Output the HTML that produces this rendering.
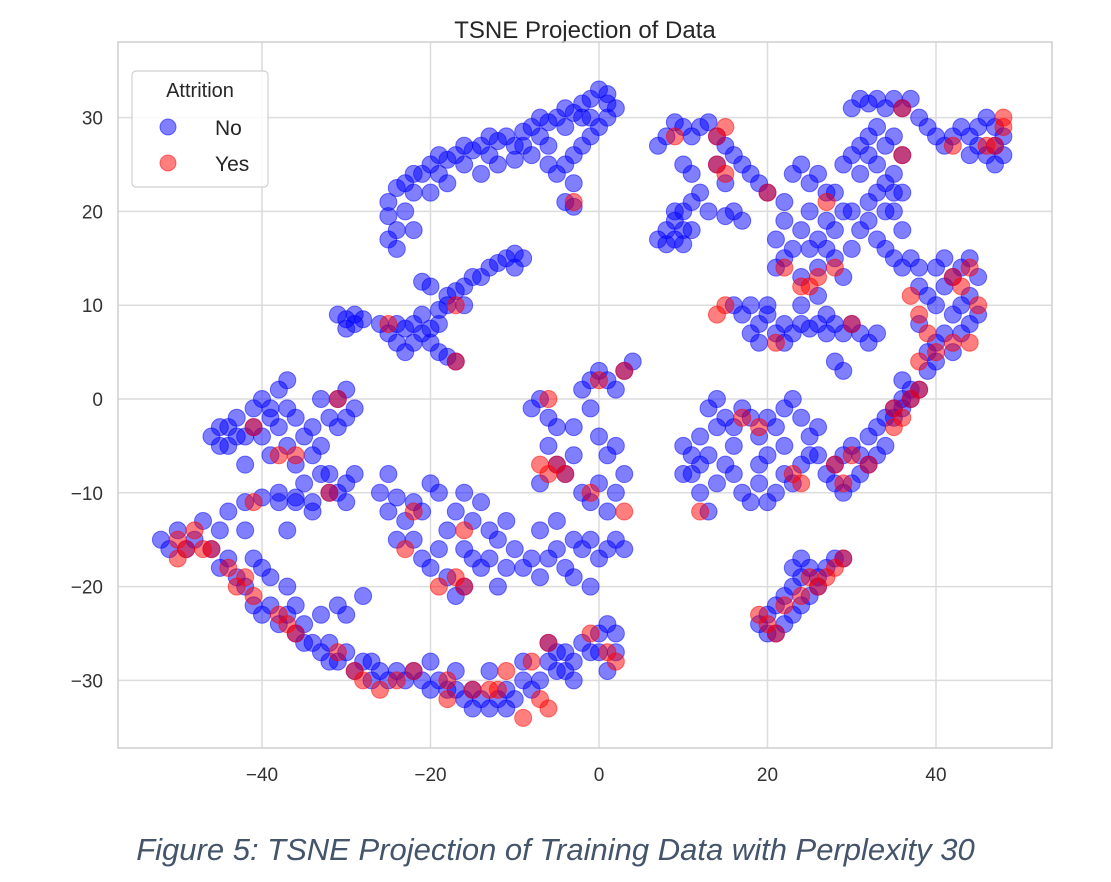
<!DOCTYPE html>
<html><head><meta charset="utf-8"><style>
body{margin:0;background:#fff;width:1111px;height:882px;overflow:hidden;font-family:"Liberation Sans",sans-serif}
svg{position:absolute;left:0;top:0}
.cap{position:absolute;left:0;width:1111px;top:832px;text-align:center;font-style:italic;font-size:31px;color:#44546a;font-family:"Liberation Sans",sans-serif}
</style></head><body>
<svg id="chart" width="1111" height="882"></svg>
<div class="cap">Figure 5: TSNE Projection of Training Data with Perplexity 30</div>
<script>
const xTicks=[-40,-20,0,20,40];
const yTicks=[-30,-20,-10,0,10,20,30];
const seriesNames=["No","Yes"];
const noPoints=[[-25,17],[-24,18],[-25,19.5],[-25,21],[-24,22.5],[-23,23],[-22,22],[-21,24],[-20,25],[-19,24],[-18,25.5],[-17,26],[-16,25],[-15,26.5],[-14,27],[-13,26],[-12,27.5],[-11,28],[-10,27],[-9,28.5],[-8,29],[-7,28],[-6,29.5],[-5,30],[-4,31],[-3,30.5],[-2,31.5],[-1,32],[0,33],[1,32.5],[2,31],[1,30],[0,29],[-1,28],[-2,27],[-3,26],[-4,25],[-3,23],[-4,21],[-3,20.5],[-10,25.5],[-8,26],[-6,27],[-23,20],[-22,18],[-24,16],[-20,22],[-18,23],[-14,24],[-12,25],[-6,25],[-5,24],[-22,24],[-19,26],[-16,27],[-13,28],[-9,27],[-7,30],[-4,29],[-2,30],[1,31.5],[-1,30],
[-21,12.5],[-20,12],[-18,11],[-17,11.5],[-16,12],[-15,13],[-14,13],[-13,14],[-12,14.5],[-11,15],[-10,15.5],[-9,15],[-10,14],
[-31,9],[-30,8.5],[-29,8],[-30,7.5],[-28,8.5],[-26,8],[-25,7],[-24,6],[-23,5],[-22,8],[-23,7.5],[-21,7],[-20,7.5],[-19,8],[-20,6],[-19,5],[-18,4.5],[-17,4],[-21,9],[-19,9.5],[-18,10],[-16,10],[-29,9],[-24,8],[-22,6],
[-46,-4],[-45,-3],[-44,-5],[-43,-2],[-42,-4],[-41,-1],[-40,0],[-39,-1],[-38,1],[-37,2],[-38,-3],[-37,-5],[-36,-2],[-35,-4],[-36,-7],[-35,-9],[-34,-6],[-33,0],[-32,-2],[-33,-5],[-32,-8],[-31,-10],[-30,-9],[-31,0],[-30,1],[-29,-1],[-31,-3],[-29,-8],[-39,-6],[-40,-4],[-42,-7],[-44,-3],[-45,-5],[-38,-10],[-36,-11],[-34,-12],[-37,-14],[-43,-4],[-41,-3],[-39,-2],[-37,-1],[-34,-3],[-33,-8],[-30,-2],
[-42,-11],[-40,-10.5],[-38,-11],[-36,-10.5],[-34,-11],[-32,-10],[-30,-11],
[-52,-15],[-51,-16],[-50,-14],[-49,-16],[-48,-15],[-47,-13],[-46,-16],[-45,-18],[-44,-17],[-43,-19],[-42,-20],[-41,-22],[-40,-23],[-39,-22],[-38,-24],[-37,-23],[-36,-25],[-35,-24],[-34,-26],[-33,-27],[-32,-26],[-31,-28],[-30,-27],[-29,-29],[-28,-28],[-27,-30],[-26,-29],[-25,-30],[-24,-29],[-23,-30],[-22,-29],[-21,-30],[-20,-31],[-19,-30],[-18,-31],[-17,-31],[-16,-32],[-15,-31],[-14,-32],[-13,-33],[-12,-32],[-11,-31],[-10,-32],[-9,-30],[-8,-31],[-7,-30],[-6,-28],[-5,-29],[-4,-27],[-3,-28],[-2,-26],[-1,-27],[0,-25],[1,-24],[2,-25],[2,-27],[1,-29],[-3,-30],[-6,-26],[-37,-20],[-36,-22],[-33,-23],[-31,-22],[-30,-23],[-28,-21],[-44,-12],[-45,-14],[-42,-14],[-41,-17],[-40,-18],[-39,-19],[-20,-28],[-17,-29],[-13,-29],[-9,-28],[-35,-26],[-32,-28],[-27,-28],[-15,-33],[-11,-33],[-5,-27],[-4,-29],[0,-27],
[-26,-10],[-25,-12],[-24,-10.5],[-23,-13],[-22,-15],[-22,-11],[-21,-17],[-20,-18],[-19,-16],[-18,-14],[-20,-9],[-19,-10],[-17,-12],[-16,-10],[-15,-13],[-14,-11],[-13,-14],[-16,-16],[-15,-17],[-14,-18],[-13,-17],[-12,-15],[-11,-13],[-10,-16],[-9,-18],[-8,-17],[-7,-19],[-6,-17],[-5,-16],[-4,-18],[-3,-15],[-2,-16],[-1,-15],[0,-17],[1,-16],[2,-15],[3,-16],[-17,-21],[-16,-20],[-18,-19],[-12,-20],[-11,-18],[-7,-14],[-5,-13],[-3,-19],[-1,-20],[-24,-15],[-25,-8],[-21,-12],
[-8,-1],[-7,0],[-6,-2],[-5,-3],[-6,-5],[-5,-7],[-7,-9],[-4,-8],[-3,-6],[-2,1],[-1,2],[0,3],[1,2],[2,1],[3,3],[4,4],[-1,-1],[0,-4],[1,-6],[0,-9],[2,-10],[1,-12],[-1,-11],[3,-8],[2,-5],[-2,-10],[-3,-3],
[7,27],[8,28],[9,29.5],[10,29],[11,28],[12,29],[13,29.5],[14,28],[15,27],[16,26],[17,25],[18,24],[19,23],[20,22],[14,25],[15,23],[12,22],[11,21],[10,20],[9,19],[8,18],[9,17],[10,16.5],[7,17],[11,18],[16,20],[17,19],[15,19.5],[13,20],[10,25],[11,24],[9,20],[10,18],[8,16.5],
[22,21],[23,24],[24,25],[25,23],[26,24],[27,22],[25,20],[24,18],[23,16],[22,15],[21,14],[24,13],[26,14],[27,16],[28,18],[29,20],[27,19],[26,17],[28,15],[29,13],[30,20],[31,18],[32,19],[33,17],[34,16],[35,15],[30,16],[31,24],[32,26],[33,25],[34,23],[35,24],[36,22],[35,20],[36,18],[34,20],[29,25],[30,26],[28,22],[22,19],[21,17],[37,15],[38,14],[36,14],[33,22],[35,22],[32,21],[25,16],
[30,31],[31,32],[32,31.5],[33,32],[34,31],[35,32],[36,31],[37,32],[38,30],[39,29],[40,28],[41,27],[42,28],[43,29],[44,28],[45,29],[46,30],[47,29],[48,28],[47,27],[46,26],[47,25],[48,26],[45,27],[44,26],[32,28],[33,29],[34,27],[35,28],[36,26],[31,27],
[38,12],[39,11],[40,10],[41,12],[42,13],[43,14],[44,15],[45,13],[44,11],[43,10],[42,9],[41,7],[40,6],[39,5],[40,4],[42,5],[43,7],[44,8],[45,9],[38,8],[39,3],[38,1],[37,0],[36,-1],[35,-2],[36,2],[40,14],[41,15],
[16,10],[17,9],[18,10],[19,8],[20,9],[21,7],[22,8],[23,7],[24,8],[25,7.5],[26,8],[27,7],[28,8],[29,7],[30,8],[31,7],[32,6],[33,7],[24,10],[26,11],[27,9],[19,6],[18,7],[22,6],[20,10],[29,3],[28,4],
[10,-5],[11,-6],[12,-4],[13,-1],[14,0],[15,-2],[16,-3],[17,-1],[18,-2],[19,-4],[20,-2],[21,-3],[22,-1],[23,0],[24,-2],[25,-4],[26,-3],[11,-8],[12,-10],[13,-12],[14,-9],[15,-7],[16,-8],[17,-10],[18,-11],[19,-9],[20,-11],[21,-10],[22,-8],[23,-9],[24,-7],[25,-6],[13,-6],[16,-5],[19,-7],[14,-3],[12,-7],[10,-8],[20,-6],[22,-5],[27,-8],[28,-9],[26,-6],
[28,-7],[29,-6],[30,-5],[31,-6],[32,-4],[33,-3],[34,-2],[35,-1],[36,0],[37,1],[30,-9],[31,-8],[32,-7],[33,-6],[34,-5],[29,-10],
[19,-24],[20,-23],[21,-22],[22,-21],[23,-20],[24,-19],[25,-18],[26,-19],[27,-18],[28,-17],[29,-17],[21,-25],[22,-24],[23,-23],[24,-22],[25,-21],[26,-20],[23,-18],[24,-17],[20,-25]];
const yesPoints=[[-50,-15],[-49,-16],[-48,-14],[-50,-17],[-47,-16],[-44,-18],[-43,-20],[-42,-19],[-41,-21],[-37,-24],[-31,-27],[-29,-29],[-28,-30],[-26,-31],[-24,-30],[-22,-29],[-18,-32],[-18,-30],[-15,-31],[-12,-31],[-11,-29],[-9,-34],[-8,-28],[-7,-32],[-6,-26],[-1,-25],[1,-27],[2,-28],[-41,-11],[-41,-3],[-38,-6],[-36,-6],[-32,-10],[-31,0],[-25,8],[-22,-12],[-23,-16],[-16,-14],[-17,-19],[-16,-20],[-19,-20],[-17,4],[-17,10],[-7,-7],[-6,-8],[-4,-8],[-5,-7],[-1,-10],[3,-12],[-3,21],[-6,0],[0,2],[3,3],[9,28],[14,28],[15,29],[14,25],[15,24],[20,22],[14,9],[15,10],[19,-3],[17,-2],[12,-12],[23,-8],[24,-9],[22,14],[24,12],[25,12],[26,13],[27,21],[28,14],[30,8],[21,6],[28,-7],[29,-9],[30,-6],[32,-7],[35,-1],[36,-2],[37,0],[38,1],[35,-3],[37,11],[38,9],[38,4],[42,13],[43,12],[44,14],[45,10],[44,6],[42,6],[48,30],[48,29],[47,27],[46,27],[42,27],[36,26],[36,31],[19,-23],[20,-24],[21,-25],[22,-22],[24,-21],[25,-19],[26,-20],[27,-19],[28,-18],[29,-17],[-38,-23],[-36,-25],[-46,-16],[-13,-31],[-6,-33],[39,7],[40,5]];

const svg=document.getElementById('chart');
const NS='http://www.w3.org/2000/svg';
const L=118,T=42,R=1052,B=748;
const sx=v=>599+v*8.425;
const sy=v=>399-v*9.38;
function mk(tag,attrs,parent){const e=document.createElementNS(NS,tag);for(const k in attrs)e.setAttribute(k,attrs[k]);(parent||svg).appendChild(e);return e;}
const title=mk('text',{x:585,y:38,'text-anchor':'middle','font-size':24,fill:'#262626'});
title.textContent='TSNE Projection of Data';


xTicks.forEach(v=>{
  const g=mk('line',{x1:sx(v),x2:sx(v),y1:T,y2:B,stroke:'#dcdcdc','stroke-width':1.5});
  
  
  const t=mk('text',{x:sx(v),y:B+33,'text-anchor':'middle','font-size':19,fill:'#333'});
  t.textContent=(v<0?'\u2212'+(-v):v);
  
  
});
yTicks.forEach(v=>{
  const g=mk('line',{x1:L,x2:R,y1:sy(v),y2:sy(v),stroke:'#dcdcdc','stroke-width':1.5});
  
  
  const t=mk('text',{x:L-15,y:sy(v)+7,'text-anchor':'end','font-size':19,fill:'#333'});
  t.textContent=(v<0?'\u2212'+(-v):v);
  
  
});
const frame=mk('rect',{x:L,y:T,width:R-L,height:B-T,fill:'none',stroke:'#cfcfcf','stroke-width':1.5});


function drawSeries(pts,color,name){
  const g=mk('g',{});
  
  
  pts.forEach(p=>{
    const c=mk('circle',{cx:sx(p[0]),cy:sy(p[1]),r:8.5,fill:color,'fill-opacity':0.5,stroke:color,'stroke-opacity':0.5,'stroke-width':1},g);
    
    
  });
}
drawSeries(noPoints,'#0000ff','series-no');
drawSeries(yesPoints,'#ff0000','series-yes');
const lg=mk('g',{});


mk('rect',{x:132,y:71,width:136,height:116,rx:4,fill:'#fff','fill-opacity':0.85,stroke:'#d0d0d0','stroke-width':1.2},lg);
const lt=mk('text',{x:200,y:97,'text-anchor':'middle','font-size':20,fill:'#262626'},lg);
lt.textContent='Attrition';


[['#0000ff',seriesNames[0],127],['#ff0000',seriesNames[1],163]].forEach(e=>{
  const c=mk('circle',{cx:168,cy:e[2],r:8,fill:e[0],'fill-opacity':0.5,stroke:e[0],'stroke-opacity':0.5},lg);
  
  
  const t=mk('text',{x:215,y:e[2]+8,'font-size':21,fill:'#262626'},lg);
  t.textContent=e[1];
  
  
});
</script>
</body></html>
